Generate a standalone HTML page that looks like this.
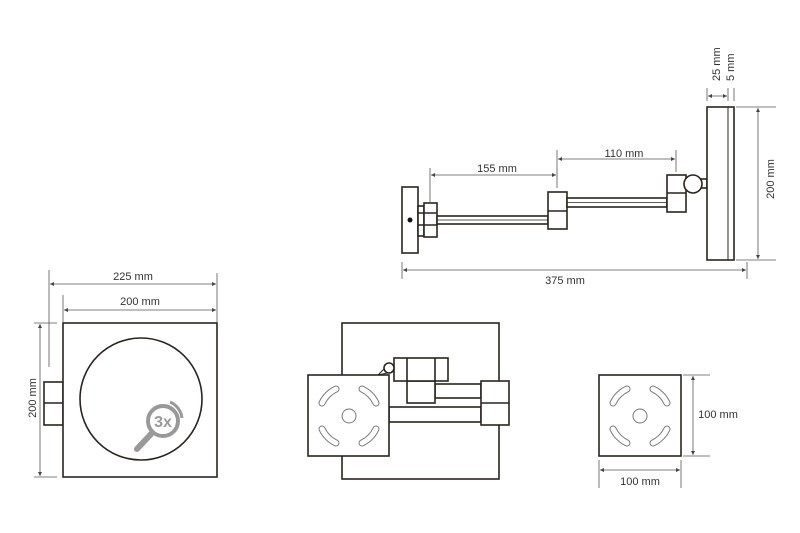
<!DOCTYPE html>
<html><head><meta charset="utf-8"><style>
html,body{margin:0;padding:0;background:#fff;}
svg{display:block;}
text{font-family:"Liberation Sans",sans-serif;font-size:11px;fill:#333;}
</style></head><body>
<svg width="800" height="533" viewBox="0 0 800 533" xmlns="http://www.w3.org/2000/svg">
<defs>
<marker id="a" viewBox="0 0 6 6" refX="6" refY="3" markerWidth="5" markerHeight="5" orient="auto-start-reverse"><path d="M0,0L6,3L0,6z" fill="#444"/></marker>
<g id="slots">
  <path d="M-27,-13 A30,30 0 0 1 -13,-27" />
  <path d="M13,-27 A30,30 0 0 1 27,-13" />
  <path d="M27,13 A30,30 0 0 1 13,27" />
  <path d="M-13,27 A30,30 0 0 1 -27,13" />
</g>
</defs>

<!-- ===== TOP SIDE VIEW ===== -->
<g fill="#fff" stroke="#2a2420" stroke-width="1.6">
  <rect x="402" y="187" width="16" height="66"/>
  <rect x="418" y="206" width="6" height="30"/>
  <rect x="424" y="203" width="13" height="34"/>
  <line x1="418" y1="213" x2="437" y2="213"/>
  <line x1="418" y1="225" x2="437" y2="225"/>
  <rect x="437" y="216" width="111" height="8"/>
  <line x1="437" y1="220" x2="548" y2="220" stroke-width="0.8"/>
  <rect x="548" y="192" width="19" height="37"/>
  <line x1="548" y1="211" x2="567" y2="211"/>
  <rect x="567" y="198" width="100" height="9"/>
  <line x1="567" y1="202.5" x2="667" y2="202.5" stroke-width="0.8"/>
  <rect x="667" y="175" width="19" height="37"/>
  <line x1="667" y1="193" x2="686" y2="193"/>
  <rect x="701" y="179" width="6" height="9"/>
  <circle cx="693" cy="184" r="9"/>
  <rect x="707" y="107" width="27" height="153"/>
  <line x1="728" y1="107" x2="728" y2="260" stroke-width="1"/>
</g>
<circle cx="410" cy="220" r="2.5" fill="#111"/>

<g stroke="#555" stroke-width="0.8" fill="none">
  <!-- 25/5 -->
  <line x1="707" y1="88" x2="707" y2="101"/>
  <line x1="728" y1="88" x2="728" y2="101"/>
  <line x1="734" y1="88" x2="734" y2="101"/>
  <line x1="708" y1="96" x2="727" y2="96" marker-start="url(#a)" marker-end="url(#a)"/>
  <!-- 200 -->
  <line x1="736" y1="107" x2="776" y2="107"/>
  <line x1="736" y1="260" x2="776" y2="260"/>
  <line x1="758" y1="108" x2="758" y2="259" marker-start="url(#a)" marker-end="url(#a)"/>
  <!-- 375 -->
  <line x1="402" y1="262" x2="402" y2="279"/>
  <line x1="747" y1="262" x2="747" y2="279"/>
  <line x1="403" y1="270" x2="746" y2="270" marker-start="url(#a)" marker-end="url(#a)"/>
  <!-- 155 -->
  <line x1="430" y1="168" x2="430" y2="202"/>
  <line x1="557" y1="150" x2="557" y2="188"/>
  <line x1="431" y1="175" x2="556" y2="175" marker-start="url(#a)" marker-end="url(#a)"/>
  <!-- 110 -->
  <line x1="676" y1="150" x2="676" y2="172"/>
  <line x1="558" y1="159" x2="675" y2="159" marker-start="url(#a)" marker-end="url(#a)"/>
</g>
<text x="720" y="81" transform="rotate(-90 720 81)" text-anchor="start">25 mm</text>
<text x="734" y="81" transform="rotate(-90 734 81)" text-anchor="start">5 mm</text>
<text x="774" y="179" transform="rotate(-90 774 179)" text-anchor="middle">200 mm</text>
<text x="565" y="284" text-anchor="middle">375 mm</text>
<text x="497" y="172" text-anchor="middle">155 mm</text>
<text x="624" y="157" text-anchor="middle">110 mm</text>

<!-- ===== FRONT VIEW LEFT ===== -->
<g fill="#fff" stroke="#2a2420" stroke-width="1.6">
  <rect x="44" y="382" width="19" height="43"/>
  <line x1="44" y1="403" x2="63" y2="403"/>
  <rect x="63" y="323" width="154" height="154"/>
  <circle cx="141" cy="399" r="61"/>
</g>
<g stroke="#999" fill="none" stroke-width="4">
  <circle cx="163" cy="421" r="15"/>
  <path d="M170,402 A20,20 0 0 1 182,418" stroke-width="3"/>
  <line x1="152" y1="433" x2="137" y2="449" stroke-width="6" stroke-linecap="round"/>
</g>
<text x="163" y="427" text-anchor="middle" style="font-size:16px;fill:#999;font-weight:bold">3x</text>
<g stroke="#555" stroke-width="0.8" fill="none">
  <line x1="49" y1="270" x2="49" y2="367"/>
  <line x1="217" y1="273" x2="217" y2="322"/>
  <line x1="50" y1="284" x2="216" y2="284" marker-start="url(#a)" marker-end="url(#a)"/>
  <line x1="63" y1="295" x2="63" y2="322"/>
  <line x1="64" y1="310" x2="216" y2="310" marker-start="url(#a)" marker-end="url(#a)"/>
  <line x1="34" y1="323" x2="57" y2="323"/>
  <line x1="34" y1="477" x2="57" y2="477"/>
  <line x1="40" y1="324" x2="40" y2="476" marker-start="url(#a)" marker-end="url(#a)"/>
</g>
<text x="133" y="280" text-anchor="middle">225 mm</text>
<text x="140" y="305" text-anchor="middle">200 mm</text>
<text x="36" y="398" transform="rotate(-90 36 398)" text-anchor="middle">200 mm</text>

<!-- ===== FRONT VIEW MIDDLE ===== -->
<g fill="#fff" stroke="#2a2420" stroke-width="1.6">
  <rect x="342" y="323" width="157" height="156"/>
  <rect x="389" y="407" width="92" height="15"/>
  <rect x="435" y="384" width="46" height="14"/>
  <rect x="407" y="381" width="28" height="22"/>
  <rect x="394" y="358" width="54" height="23"/>
  <line x1="407" y1="358" x2="407" y2="381"/>
  <line x1="435" y1="358" x2="435" y2="381"/>
  <rect x="481" y="381" width="28" height="44"/>
  <line x1="481" y1="403" x2="509" y2="403"/>
  <path d="M378,375 L384,369 L392,372 Z" stroke-width="1"/>
  <circle cx="389" cy="368" r="5"/>
  <rect x="308" y="375" width="81" height="81"/>
</g>
<g transform="translate(349,416)" fill="none" stroke-linecap="round">
  <use href="#slots" stroke="#777" stroke-width="7"/>
  <use href="#slots" stroke="#fff" stroke-width="5"/>
  <circle r="7" stroke="#777" stroke-width="1"/>
</g>

<!-- ===== RIGHT BASE ===== -->
<rect x="599" y="375" width="82" height="81" fill="#fff" stroke="#2a2420" stroke-width="1.6"/>
<g transform="translate(640,416)" fill="none" stroke-linecap="round">
  <use href="#slots" stroke="#777" stroke-width="7"/>
  <use href="#slots" stroke="#fff" stroke-width="5"/>
  <circle r="7" stroke="#777" stroke-width="1"/>
</g>
<g stroke="#555" stroke-width="0.8" fill="none">
  <line x1="683" y1="375" x2="710" y2="375"/>
  <line x1="683" y1="456" x2="710" y2="456"/>
  <line x1="693" y1="376" x2="693" y2="455" marker-start="url(#a)" marker-end="url(#a)"/>
  <line x1="599" y1="460" x2="599" y2="488"/>
  <line x1="681" y1="460" x2="681" y2="488"/>
  <line x1="600" y1="470" x2="680" y2="470" marker-start="url(#a)" marker-end="url(#a)"/>
</g>
<text x="718" y="418" text-anchor="middle">100 mm</text>
<text x="640" y="485" text-anchor="middle">100 mm</text>
</svg>
</body></html>
